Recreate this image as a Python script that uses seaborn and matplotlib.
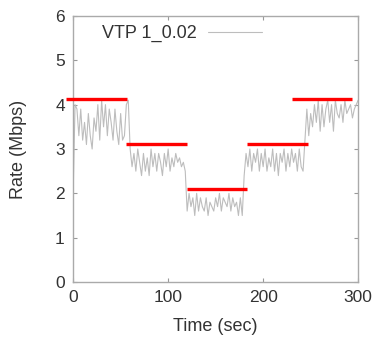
import numpy as np
import pandas as pd
import matplotlib
matplotlib.use("Agg")
import matplotlib.pyplot as plt
import seaborn as sns

# measured rate, one sample every 2 s
rate = [2.0, 4.0, 3.9, 3.3, 3.9, 3.2, 3.6, 3.1, 3.8, 3.3, 3.0, 3.7, 3.4, 4.0, 3.2,
        4.1, 3.5, 4.0, 3.3, 3.9, 3.6, 3.2, 3.9, 3.4, 3.1, 3.8, 3.2, 3.3, 4.0, 4.1,
        3.0, 2.6, 2.9, 2.5, 3.0, 2.7, 2.4, 2.9, 2.5, 2.8, 2.4, 3.0, 2.6, 2.9, 2.5,
        2.9, 2.7, 2.4, 2.9, 2.6, 3.0, 2.5, 2.8, 2.6, 2.9, 2.7, 2.8, 2.6, 2.7, 2.5,
        1.6, 2.0, 1.7, 1.9, 1.5, 2.0, 1.6, 1.9, 1.7, 1.6, 1.9, 1.5, 1.8, 1.7, 1.6,
        1.9, 1.7, 2.0, 1.6, 1.9, 1.8, 1.7, 2.0, 1.6, 1.9, 1.7, 1.8, 1.5, 1.9, 1.5,
        2.4, 2.9, 2.6, 3.0, 2.5, 2.9, 2.7, 3.0, 2.5, 2.9, 2.6, 3.0, 2.5, 2.8, 2.6,
        3.0, 2.5, 2.9, 2.4, 2.9, 2.7, 3.0, 2.5, 2.9, 2.6, 3.0, 2.7, 2.9, 2.5, 3.0,
        2.6, 2.5,
        3.2, 3.9, 3.3, 3.8, 3.5, 4.0, 3.6, 4.1, 3.4, 4.0, 3.5, 3.9, 4.1, 3.6, 4.0,
        3.4, 4.1, 3.8, 3.7, 4.0, 3.6, 4.1, 3.8, 3.9, 4.0, 3.7, 3.9, 4.0, 4.1]
time = np.arange(0, 2 * len(rate), 2)

# target bandwidth steps (red)
step_start = [-7, 56, 120, 183, 230]
step_end = [57, 120, 183, 247, 294]
step_rate = [4.12, 3.12, 2.1, 3.12, 4.12]

df = pd.DataFrame({"Time": time, "Rate": rate})

sns.set_style("ticks")
plt.rcParams["font.family"] = ["Liberation Sans", "DejaVu Sans"]

fig = plt.figure(figsize=(3.79, 3.39), dpi=100)
ax = fig.add_axes([0.193, 0.168, 0.752, 0.785])

sns.lineplot(data=df, x="Time", y="Rate", ax=ax, color="#bdbdbd",
             linewidth=0.8, label="VTP 1_0.02")
ax.hlines(step_rate, step_start, step_end, colors="#ff0000", linewidth=2.4,
          clip_on=False, zorder=5)

ax.set_xlim(0, 300)
ax.set_ylim(0, 6)
ax.set_xticks([0, 100, 200, 300])
ax.set_yticks(range(7))
ax.tick_params(direction="in", top=True, right=True, length=3, width=0.8,
               color="#999999", labelcolor="#333333", labelsize=12.5, pad=6)
for s in ax.spines.values():
    s.set_color("#aaaaaa")
    s.set_linewidth(1.0)
ax.set_xlabel("Time (sec)", fontsize=13, color="#333333", labelpad=9)
ax.set_ylabel("Rate (Mbps)", fontsize=13, color="#333333", labelpad=20)

leg = ax.legend(loc="upper left", frameon=False, markerfirst=False,
                fontsize=13, handlelength=3.0, borderaxespad=0.1,
                handletextpad=0.6, bbox_to_anchor=(0.07, 1.0))
for t in leg.get_texts():
    t.set_color("#333333")

fig.savefig("out.png", dpi=100)
